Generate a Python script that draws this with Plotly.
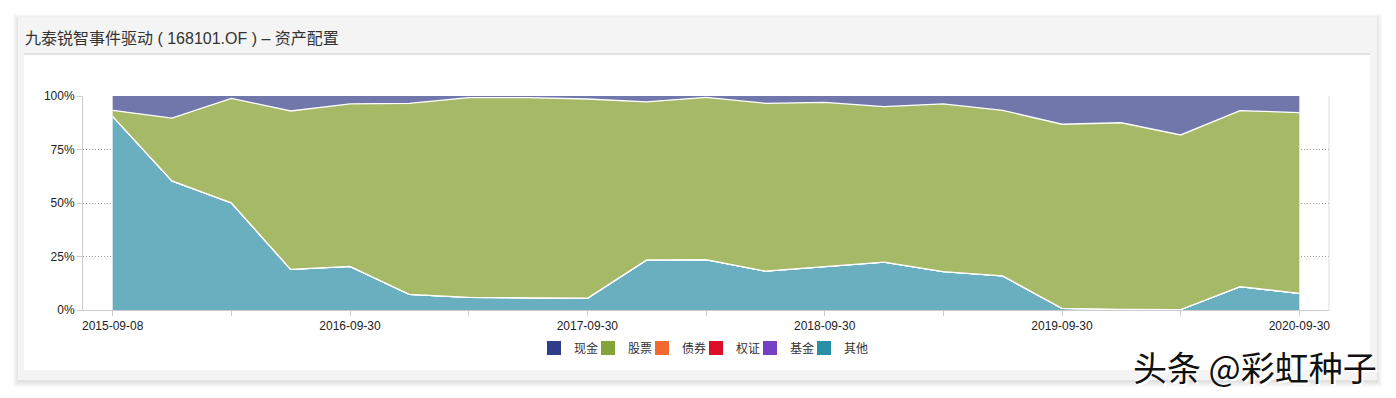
import plotly.graph_objects as go

# ---------------- data ----------------
dates = ["2015-09-08", "2015-12-31", "2016-03-31", "2016-06-30", "2016-09-30",
         "2016-12-31", "2017-03-31", "2017-06-30", "2017-09-30", "2017-12-31",
         "2018-03-31", "2018-06-30", "2018-09-30", "2018-12-31", "2019-03-31",
         "2019-06-30", "2019-09-30", "2019-12-31", "2020-03-31", "2020-06-30",
         "2020-09-30"]
# percentages
other = [90.5, 60.3, 50.1, 19.0, 20.4, 7.3, 5.9, 5.7, 5.5, 23.4, 23.5,
         18.2, 20.2, 22.4, 17.9, 15.9, 0.8, 0.3, 0.2, 10.9, 7.8]
stock = [2.8, 29.4, 48.8, 74.0, 75.9, 89.3, 93.3, 93.5, 93.1, 73.9, 75.9,
         78.4, 76.8, 72.6, 78.4, 77.4, 86.0, 87.2, 81.6, 82.3, 84.4]
bond = [0.0] * 21
warrant = [0.0] * 21
fund = [0.0] * 21
cash = [round(100 - o - s, 2) for o, s in zip(other, stock)]

names = ["现金", "股票", "债券", "权证", "基金", "其他"]
legend_colors = ["#2f3c8a", "#84a338", "#f2692f", "#dc0d28", "#7441c3", "#2a8ea5"]
fill_colors = {"现金": "#7176ab", "股票": "#a5b966", "债券": "#f5a27d",
               "权证": "#ea6b7a", "基金": "#a98bd9", "其他": "#6aafbf"}
series = {"现金": cash, "股票": stock, "债券": bond, "权证": warrant,
          "基金": fund, "其他": other}

label_dates = ["2015-09-08", "2016-09-30", "2017-09-30", "2018-09-30",
               "2019-09-30", "2020-09-30"]
y_ticks = [0, 25, 50, 75, 100]
y_labels = ["0%", "25%", "50%", "75%", "100%"]

title = "九泰锐智事件驱动 ( 168101.OF ) – 资产配置"
watermark = "头条 @彩虹种子"

# ---------------- geometry helpers ----------------
W, H = 1396, 398
L, R, T, B = 83, 1329, 96, 310


def px(x):
    return (x - L) / (R - L)


def py(y):
    return (B - y) / (B - T)


FONT = "Liberation Sans, Noto Sans CJK SC, sans-serif"

fig = go.Figure()

# stacked areas (bottom -> top)
stack_order = ["其他", "基金", "权证", "债券", "股票", "现金"]
for nm in stack_order:
    fig.add_trace(go.Scatter(
        x=dates, y=series[nm], name=nm, stackgroup="one", mode="lines",
        line=dict(color="white", width=0 if nm == "现金" else 1.3),
        fillcolor=fill_colors[nm], showlegend=False, hoverinfo="skip",
    ))

# legend entries
for nm, c in zip(names, legend_colors):
    fig.add_trace(go.Scatter(
        x=[None], y=[None], name=nm, mode="markers",
        marker=dict(color=c, size=14, symbol="square"), showlegend=True,
    ))
# invisible spacer so the last legend label is not clipped
fig.add_trace(go.Scatter(
    x=[None], y=[None], name=" ", mode="markers",
    marker=dict(color="rgba(0,0,0,0)", size=1), showlegend=True,
))

shapes = []
# card shadow
for i in range(6):
    shapes.append(dict(type="rect", xref="paper", yref="paper", layer="below",
                       x0=px(18 - i), x1=px(1377 + i), y0=py(17 - i + 2), y1=py(380 + i + 2),
                       line=dict(width=0), fillcolor="rgba(0,0,0,0.018)"))
# card
shapes.append(dict(type="rect", xref="paper", yref="paper", layer="below",
                   x0=px(18), x1=px(1377), y0=py(17), y1=py(380),
                   line=dict(width=0), fillcolor="#f4f4f4"))
# white content panel
shapes.append(dict(type="rect", xref="paper", yref="paper", layer="below",
                   x0=px(24), x1=px(1370), y0=py(55), y1=py(370),
                   line=dict(width=0), fillcolor="#ffffff"))
# separator
shapes.append(dict(type="line", xref="paper", yref="paper", layer="below",
                   x0=px(24), x1=px(1370), y0=py(54), y1=py(54),
                   line=dict(color="#cfcfcf", width=1)))
# right border of grid
shapes.append(dict(type="line", xref="paper", yref="paper", layer="above",
                   x0=1, x1=1, y0=0, y1=1,
                   line=dict(color="#dddddd", width=1)))

annotations = [
    dict(text=title, xref="paper", yref="paper", x=px(23), y=py(38),
         xanchor="left", yanchor="middle", showarrow=False,
         font=dict(family=FONT, size=16, color="#333333")),
    dict(text=watermark, xref="paper", yref="paper", x=px(1255), y=py(366),
         xanchor="center", yanchor="middle", showarrow=False,
         font=dict(family="Noto Sans CJK SC", size=34, color="#111111",
                   shadow="2px 2px 0px #ffffff, -1px -1px 0px #ffffff")),
]

tickvals = dates[::2]
ticktext = [d if d in label_dates else "" for d in tickvals]

fig.update_layout(
    width=W, height=H,
    margin=dict(l=L, r=W - R, t=T, b=H - B),
    paper_bgcolor="white", plot_bgcolor="rgba(0,0,0,0)",
    font=dict(family=FONT, size=12, color="#222222"),
    shapes=shapes, annotations=annotations,
    showlegend=True,
    legend=dict(orientation="h", x=px(534), xanchor="left", y=py(348),
                yanchor="middle", font=dict(family=FONT, size=12, color="#333333"),
                bgcolor="rgba(0,0,0,0)", entrywidth=9, itemwidth=30,
                traceorder="normal"),
    xaxis=dict(type="category", range=[-0.5, 20.5], tickmode="array",
               tickvals=tickvals, ticktext=ticktext, showgrid=False,
               showline=True, linecolor="#cccccc", linewidth=1,
               ticks="outside", ticklen=5, tickcolor="#cccccc",
               tickfont=dict(size=12, color="#222222"), zeroline=False),
    yaxis=dict(range=[0, 100], tickmode="array", tickvals=y_ticks, ticktext=y_labels,
               showgrid=True, gridcolor="#999999", griddash="1px,2px", gridwidth=1,
               showline=True, linecolor="#cccccc", linewidth=1,
               ticks="outside", ticklen=5, tickcolor="#cccccc",
               tickfont=dict(size=12, color="#222222"), zeroline=False),
)

fig.write_html("out.html", config={"displayModeBar": False},
               post_script="document.body.style.margin='0';document.body.style.padding='0';")
